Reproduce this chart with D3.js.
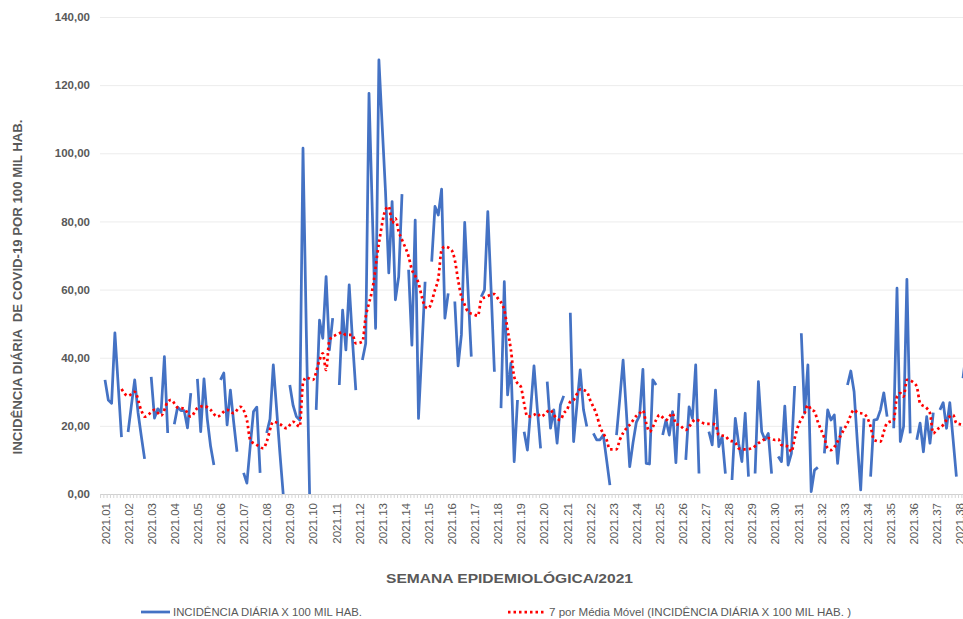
<!DOCTYPE html>
<html>
<head>
<meta charset="utf-8">
<script src="https://cdn.jsdelivr.net/npm/d3@7"></script>
<style>
  body { margin: 0; background: #fff; }
  svg { display: block; font-family: "Liberation Sans", Arial, sans-serif; }
</style>
</head>
<body>
<svg id="chart" width="963" height="619"></svg>
<script>
// daily incidence x 100k inhabitants, one value per day (null = no data)
const incidencia = [
  33.5, 27.6, 26.6, 47.3, 32, 16.7, null,
  18.2, 26, 33.5, 24, 17, 10.3, null,
  34.4, 22.3, 25, 24, 40.3, 17.9, null,
  20.5, 25.5, 24.5, 24.5, 19.4, 29.6, null,
  33.8, 18.3, 33.8, 22, 14, 8.5, null,
  33.5, 35.5, 20.3, 30.5, 21, 12.4, null,
  6.2, 3.2, 14, 24.2, 25.5, 6.2, null,
  17.9, 22, 37.9, 25, 12, 0, null,
  32, 26, 22.7, 21.7, 101.5, 48, 0,
  null, 24.7, 51, 45.7, 63.8, 42.3, 51.6,
  null, 32, 54, 42.3, 61.4, 45, 30.5,
  null, 39.3, 44.2, 117.6, 83, 48.6, 127.4,
  108, 88.8, 64.9, 85.8, 57, 63.8, 88,
  null, 65.8, 43.7, 80.4, 22.2, 42, 62.3,
  null, 68.2, 84.4, 81.9, 89.5, 51.6, 58.9,
  null, 56.5, 37.6, 46.7, 79.7, 60, 40.3,
  null, null, 57.9, 59.9, 82.9, 60, 35.9,
  null, 25.2, 62.3, 29.1, 38.4, 9.5, 27.6,
  null, 18.3, 12.9, 25, 37.6, 25, 13.4,
  null, 33, 19.3, 24.7, 14.9, 26.1, 28.8,
  null, 53.2, 15.4, 26, 36.4, 24.7, 19.8,
  null, 17.8, 15.9, 15.9, 17.3, 10, 2.6,
  null, 17.3, 28, 39.3, 24, 8, 15,
  21, 23, 36.6, 9, 8.8, 33.5, 32,
  null, 17.3, 21.7, 17.3, 24.2, 9.2, 29.6,
  null, 10, 25.6, 22.2, 37.9, 6, null,
  null, 18.3, 14.4, 30.5, 13.9, 16.8, 6,
  null, 4.1, 22.2, 14.9, 9.5, 23.7, 5.1,
  null, 6, 33, 18.3, 15.9, 17.8, 6,
  null, 11, 9.5, 25.8, 8.5, 11.9, 31.7,
  null, 47.2, 23.7, 37.9, 0.7, 7, 7.8,
  null, 11.9, 24.7, 21.7, 23.2, 9, 19.8,
  null, 32, 36.1, 30, 15, 1.2, 22.2,
  null, 5.1, 21.7, 21.9, 24.7, 29.7, 22.7,
  null, 19.3, 60.4, 15.4, 19.8, 63, 17.8,
  null, 15.9, 20.8, 12.4, 22.7, 14.9, 23.9,
  null, 24.7, 26.8, 19.3, 26.8, 16, 5.1,
  null, 34, 42
];

// 7 day moving average (day index / value)
const maDay = [
  5, 7, 9, 11, 12, 14, 15, 17, 19, 20,
  22, 24, 26, 28, 30, 32, 34, 37, 39, 41,
  43, 44, 46, 48, 49, 51, 53, 55, 57, 59,
  60, 61, 63, 65, 66, 67, 68, 70, 72, 73,
  75, 76, 78, 79, 80, 81, 83, 85, 86, 87,
  88, 89, 90, 92, 93, 94, 95, 96, 97, 98,
  100, 101, 102, 103, 105, 106, 107, 108, 109, 110,
  112, 113, 114, 116, 118, 119, 121, 122, 123, 124,
  125, 126, 127, 128, 130, 131, 132, 135, 136, 138,
  139, 140, 141, 142, 144, 146, 147, 149, 150, 152,
  153, 155, 156, 158, 159, 161, 162, 163, 164, 165,
  167, 168, 170, 172, 173, 174, 176, 177, 179, 180,
  182, 184, 185, 186, 188, 189, 191, 192, 194, 196,
  198, 200, 201, 203, 204, 205, 207, 208, 209, 210,
  212, 213, 214, 215, 216, 218, 219, 220, 222, 223,
  225, 227, 228, 230, 232, 233, 235, 236, 237, 239,
  240, 241, 242, 243, 245, 246, 247, 249, 250, 251,
  252, 254, 255, 257, 258, 260, 261
];
const maValue = [
  30.8, 28.8, 30, 24.5, 22.7, 24, 24.7, 23, 27, 27.6,
  25.4, 25, 22.7, 25.2, 25.8, 24.7, 22.7, 24.7, 23.7, 25.6,
  21.7, 15.9, 14.4, 13.4, 15.4, 21.2, 20.5, 19.3, 21.2, 19.8,
  32.5, 34.2, 33.5, 39.3, 41.3, 36.4, 45.2, 46.7, 47.4, 46.7,
  46.7, 44.2, 44.7, 52, 56, 59.9, 73.6, 83.4, 84.4, 79.5,
  80.9, 77, 74.6, 69.7, 65.8, 64, 61.9, 57.9, 55, 54.5,
  59.9, 63.3, 71.6, 72.6, 71.6, 68.7, 62.8, 57.9, 55.5, 53.5,
  52.6, 52.3, 57, 58.1, 58.7, 57.5, 54, 48.2, 42.3, 34.4,
  32.5, 31.5, 26.6, 22.7, 23.2, 23.7, 22.7, 24.7, 23.2, 21.7,
  23.7, 24.7, 27.1, 27.6, 30.7, 30, 27.6, 23.2, 19.8, 15.9,
  13.1, 13.1, 15.9, 19.3, 20.3, 22.9, 23.7, 24.5, 20.8, 18.3,
  21.7, 23.2, 21.7, 23.7, 20.5, 20.3, 18.8, 19.8, 21.9, 21.5,
  20.6, 20.6, 20.3, 17.3, 17, 15.9, 15.1, 13.4, 13.1, 13.4,
  14.9, 16.1, 16.4, 15.9, 16.1, 14.4, 13.9, 12.4, 16.4, 19.8,
  23.7, 26.1, 24.7, 24.2, 21.2, 16.4, 13.4, 12.9, 15.4, 17.3,
  20.8, 24.7, 23.9, 23.5, 19.8, 15.9, 15.4, 18.3, 20.8, 21.7,
  28.6, 29.6, 28.6, 33.5, 32.7, 31.5, 26.6, 25.2, 23.7, 17.8,
  18.8, 20.3, 21.7, 23.2, 20.8, 20.3, 20
];

// one label per week, placed every 7th day
const weekLabels = [
  "2021.01", "2021.02", "2021.03", "2021.04", "2021.05", "2021.06", "2021.07",
  "2021.08", "2021.09", "2021.10", "2021.11", "2021.12", "2021.13", "2021.14",
  "2021.15", "2021.16", "2021.17", "2021.18", "2021.19", "2021.20", "2021.21",
  "2021.22", "2021.23", "2021.24", "2021.25", "2021.26", "2021.27", "2021.28",
  "2021.29", "2021.30", "2021.31", "2021.32", "2021.33", "2021.34", "2021.35",
  "2021.36", "2021.37", "2021.38"
];
const yTicks = [0, 20, 40, 60, 80, 100, 120, 140];

const serieName = "INCIDÊNCIA DIÁRIA X 100 MIL HAB.";
const maName = "7 por Média Móvel (INCIDÊNCIA DIÁRIA X 100 MIL HAB. )";

const ptBR = d3.formatLocale({ decimal: ",", thousands: ".", grouping: [3], currency: ["R$", ""] });
const fmt = ptBR.format(".2f");

const svg = d3.select("#chart");
const plotLeft = 100, plotRight = 963, plotTop = 17, plotBottom = 494;

const x = d3.scaleLinear().domain([0, 259]).range([105, 959.7]);
const y = d3.scaleLinear().domain([0, 140]).range([plotBottom, plotTop]);

// gridlines + y labels
const yAxis = svg.append("g")
  .attr("transform", "translate(" + plotLeft + ",0)")
  .call(d3.axisLeft(y).tickValues(yTicks).tickFormat(fmt).tickSize(-(plotRight - plotLeft)).tickPadding(10));
yAxis.select(".domain").remove();
yAxis.selectAll(".tick line").attr("stroke", "#ececec").attr("stroke-width", 1);
yAxis.selectAll(".tick text")
  .attr("fill", "#595959")
  .attr("font-size", "11.5px")
  .attr("font-weight", "bold");

// x axis: baseline with a small tick for every day
const dayTicks = d3.range(-1.5, 262, 1);
const xMinor = svg.append("g")
  .attr("transform", "translate(0," + plotBottom + ")")
  .call(d3.axisBottom(x).tickValues(dayTicks).tickFormat("").tickSize(4).tickSizeOuter(0));
xMinor.select(".domain").attr("d", "M" + plotLeft + ",0.5H" + plotRight).attr("stroke", "#d0d0d0");
xMinor.selectAll(".tick line").attr("stroke", "#d6d6d6");

// week labels
const xLabels = svg.append("g")
  .attr("transform", "translate(0," + plotBottom + ")")
  .call(d3.axisBottom(x).tickValues(weekLabels.map(function(d, i) { return i * 7; }))
    .tickFormat(function(d) { return weekLabels[d / 7]; }).tickSize(0));
xLabels.select(".domain").remove();
xLabels.selectAll(".tick text")
  .attr("fill", "#595959")
  .attr("font-size", "11.5px")
  .attr("text-anchor", "end")
  .attr("transform", "translate(0,9) rotate(-90)")
  .attr("x", 0)
  .attr("y", 0)
  .attr("dy", "0.35em");

// daily series
const line = d3.line()
  .defined(function(d) { return d != null; })
  .x(function(d, i) { return x(i); })
  .y(function(d) { return y(d); });

svg.append("path")
  .datum(incidencia)
  .attr("fill", "none")
  .attr("stroke", "#4472C4")
  .attr("stroke-width", 2.75)
  .attr("stroke-linejoin", "round")
  .attr("d", line);

// moving average
const maLine = d3.line()
  .x(function(d) { return x(d[0]); })
  .y(function(d) { return y(d[1]); })
  .curve(d3.curveMonotoneX);

svg.append("path")
  .datum(d3.zip(maDay, maValue))
  .attr("fill", "none")
  .attr("stroke", "#FF0000")
  .attr("stroke-width", 2.75)
  .attr("stroke-dasharray", "2.5 3")
  .attr("d", maLine);

// axis titles
svg.append("text")
  .attr("transform", "translate(22,287) rotate(-90)")
  .attr("text-anchor", "middle")
  .attr("fill", "#595959")
  .attr("font-size", "12px")
  .attr("font-weight", "bold")
  .attr("textLength", 335)
  .attr("lengthAdjust", "spacingAndGlyphs")
  .style("white-space", "pre")
  .text("INCIDÊNCIA DIÁRIA  DE COVID-19 POR 100 MIL HAB.");

svg.append("text")
  .attr("x", 509.5)
  .attr("y", 583)
  .attr("text-anchor", "middle")
  .attr("fill", "#595959")
  .attr("font-size", "12px")
  .attr("font-weight", "bold")
  .attr("textLength", 247)
  .attr("lengthAdjust", "spacingAndGlyphs")
  .text("SEMANA EPIDEMIOLÓGICA/2021");

// legend
const legend = svg.append("g");
legend.append("line")
  .attr("x1", 141).attr("x2", 170).attr("y1", 612).attr("y2", 612)
  .attr("stroke", "#4472C4").attr("stroke-width", 2.75);
legend.append("text")
  .attr("x", 173).attr("y", 616)
  .attr("fill", "#595959").attr("font-size", "10.5px")
  .attr("textLength", 189).attr("lengthAdjust", "spacingAndGlyphs")
  .text(serieName);
legend.append("line")
  .attr("x1", 508).attr("x2", 546).attr("y1", 612).attr("y2", 612)
  .attr("stroke", "#FF0000").attr("stroke-width", 2.75)
  .attr("stroke-dasharray", "2.5 3");
legend.append("text")
  .attr("x", 549).attr("y", 616)
  .attr("fill", "#595959").attr("font-size", "10.5px")
  .attr("textLength", 302).attr("lengthAdjust", "spacingAndGlyphs")
  .text(maName);
</script>
</body>
</html>
